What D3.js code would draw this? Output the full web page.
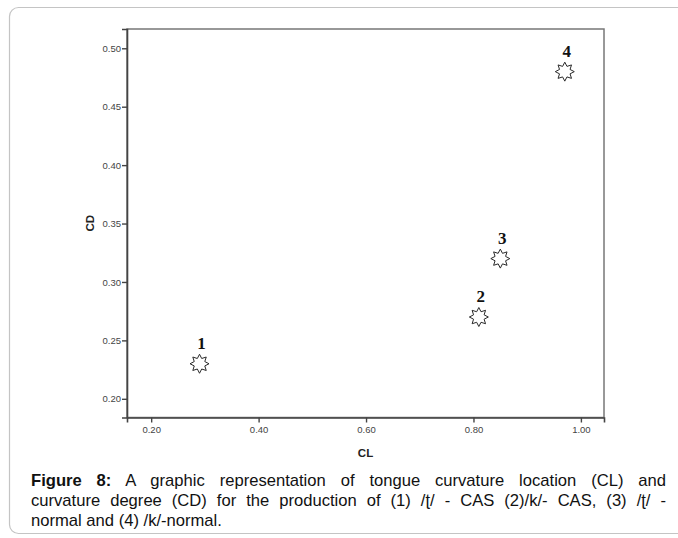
<!DOCTYPE html>
<html>
<head>
<meta charset="utf-8">
<script src="https://cdn.jsdelivr.net/npm/d3@7"></script>
<style>
body{margin:0;background:#fff;}
#wrap{position:relative;width:678px;height:538px;overflow:hidden;}
#caption{position:absolute;left:31px;top:471px;width:635px;font-family:"Liberation Sans",Arial,sans-serif;font-size:16.6px;line-height:20px;color:#111;}
#caption .j{text-align:justify;text-align-last:justify;}
</style>
</head>
<body>
<div id="wrap"><svg id="chart"></svg><div id="caption"></div></div>
<script>
window.onload=function(){
	const pointIds=["1","2","3","4"];
	const clValues=[0.29,0.81,0.85,0.97];
	const cdValues=[0.23,0.27,0.32,0.48];
	const xTickValues=[0.20,0.40,0.60,0.80,1.00];
	const yTickValues=[0.20,0.25,0.30,0.35,0.40,0.45,0.50];
	const xTitle="CL",yTitle="CD";
	const captionLines=[
		["Figure 8:"," A graphic representation of tongue curvature location (CL) and"],
		[""," curvature degree (CD) for the production of (1) /ʈ/ - CAS (2)/k/- CAS, (3) /ʈ/ -"],
		[""," normal and (4) /k/-normal."]
	];

	const points=pointIds.map(function(d,i){return {id:d,cl:clValues[i],cd:cdValues[i]};});
	const W=678,H=538;
	const plot={left:127,top:29,right:604,bottom:417.5};
	const svg=d3.select("#chart")
							.attr("width",W)
							.attr("height",H)
							.style("position","absolute")
							.style("left",0)
							.style("top",0);

	//outer frame
	svg.append("rect")
			.attr("x",9.5)
			.attr("y",7.5)
			.attr("width",720)
			.attr("height",526)
			.attr("rx",9)
			.style("fill","none")
			.style("stroke","#c4c4c4")
			.style("stroke-width",1.2);

	const xScale=d3.scaleLinear()
										.domain([0.155,1.043])
										.range([plot.left,plot.right]);
	const yScale=d3.scaleLinear()
										.domain([0.184,0.5165])
										.range([plot.bottom,plot.top]);

	svg.append("rect")
			.attr("x",plot.left)
			.attr("y",plot.top)
			.attr("width",plot.right-plot.left)
			.attr("height",plot.bottom-plot.top)
			.style("fill","#fff")
			.style("stroke","#777")
			.style("stroke-width",1.5);

	const fmt=d3.format(".2f");
	const xAxis=d3.axisBottom(xScale)
									.tickValues(xTickValues)
									.tickFormat(fmt)
									.tickSizeOuter(0)
									.tickSize(5)
									.tickPadding(4);
	const yAxis=d3.axisLeft(yScale)
									.tickValues(yTickValues)
									.tickFormat(fmt)
									.tickSizeOuter(0)
									.tickSize(5)
									.tickPadding(1);
	const gx=svg.append("g")
							.attr("transform","translate(0,"+plot.bottom+")")
							.call(xAxis);
	const gy=svg.append("g")
							.attr("transform","translate("+plot.left+",0)")
							.call(yAxis);
	[gx,gy].forEach(function(g){
		g.select(".domain").style("stroke","#444").style("stroke-width",1.6);
		g.selectAll(".tick line").style("stroke","#444").style("stroke-width",1.4);
		g.selectAll(".tick text")
			.style("font-family","'Liberation Sans',Arial,sans-serif")
			.style("font-size","9.5px")
			.style("fill","#444");
	});

	//axis titles
	svg.append("text")
			.attr("x",(plot.left+plot.right)/2)
			.attr("y",457)
			.attr("text-anchor","middle")
			.style("font-family","'Liberation Sans',Arial,sans-serif")
			.style("font-weight","bold")
			.style("font-size","11.5px")
			.style("fill","#222")
			.text(xTitle);
	svg.append("text")
			.attr("transform","translate(94,"+((plot.top+plot.bottom)/2)+") rotate(-90)")
			.attr("text-anchor","middle")
			.style("font-family","'Liberation Sans',Arial,sans-serif")
			.style("font-weight","bold")
			.style("font-size","11.5px")
			.style("fill","#222")
			.text(yTitle);

	//8 point star marker
	const star8={draw:function(ctx,size){
		const ro=Math.sqrt(size)/2,ri=ro*0.6;
		for(let i=0;i<16;i++){
			const a=i*Math.PI/8-Math.PI/2,r=i%2?ri:ro;
			if(i===0) ctx.moveTo(r*Math.cos(a),r*Math.sin(a));
			else ctx.lineTo(r*Math.cos(a),r*Math.sin(a));
		}
		ctx.closePath();
	}};
	const symbol=d3.symbol().type(star8).size(19*19);

	const marks=svg.append("g")
									.selectAll("g")
									.data(points)
									.enter()
								.append("g")
									.attr("transform",function(d){return "translate("+xScale(d.cl)+","+yScale(d.cd)+")";});
	marks.append("path")
			.attr("d",symbol)
			.style("fill","#fff")
			.style("stroke","#2a2a2a")
			.style("stroke-width",1);
	marks.append("text")
			.attr("x",2)
			.attr("y",-15)
			.attr("text-anchor","middle")
			.style("font-family","'Liberation Serif','Times New Roman',serif")
			.style("font-weight","bold")
			.style("font-size","17px")
			.style("fill","#111")
			.text(function(d){return d.id;});

	//caption
	const cap=d3.select("#caption")
							.selectAll("div")
							.data(captionLines)
							.enter()
						.append("div")
							.attr("class",function(d,i){return i<captionLines.length-1?"j":null;});
	cap.append("b").text(function(d){return d[0];});
	cap.append("span").text(function(d){return d[0]?d[1]:d[1].trim();});
};
</script>
</body>
</html>
